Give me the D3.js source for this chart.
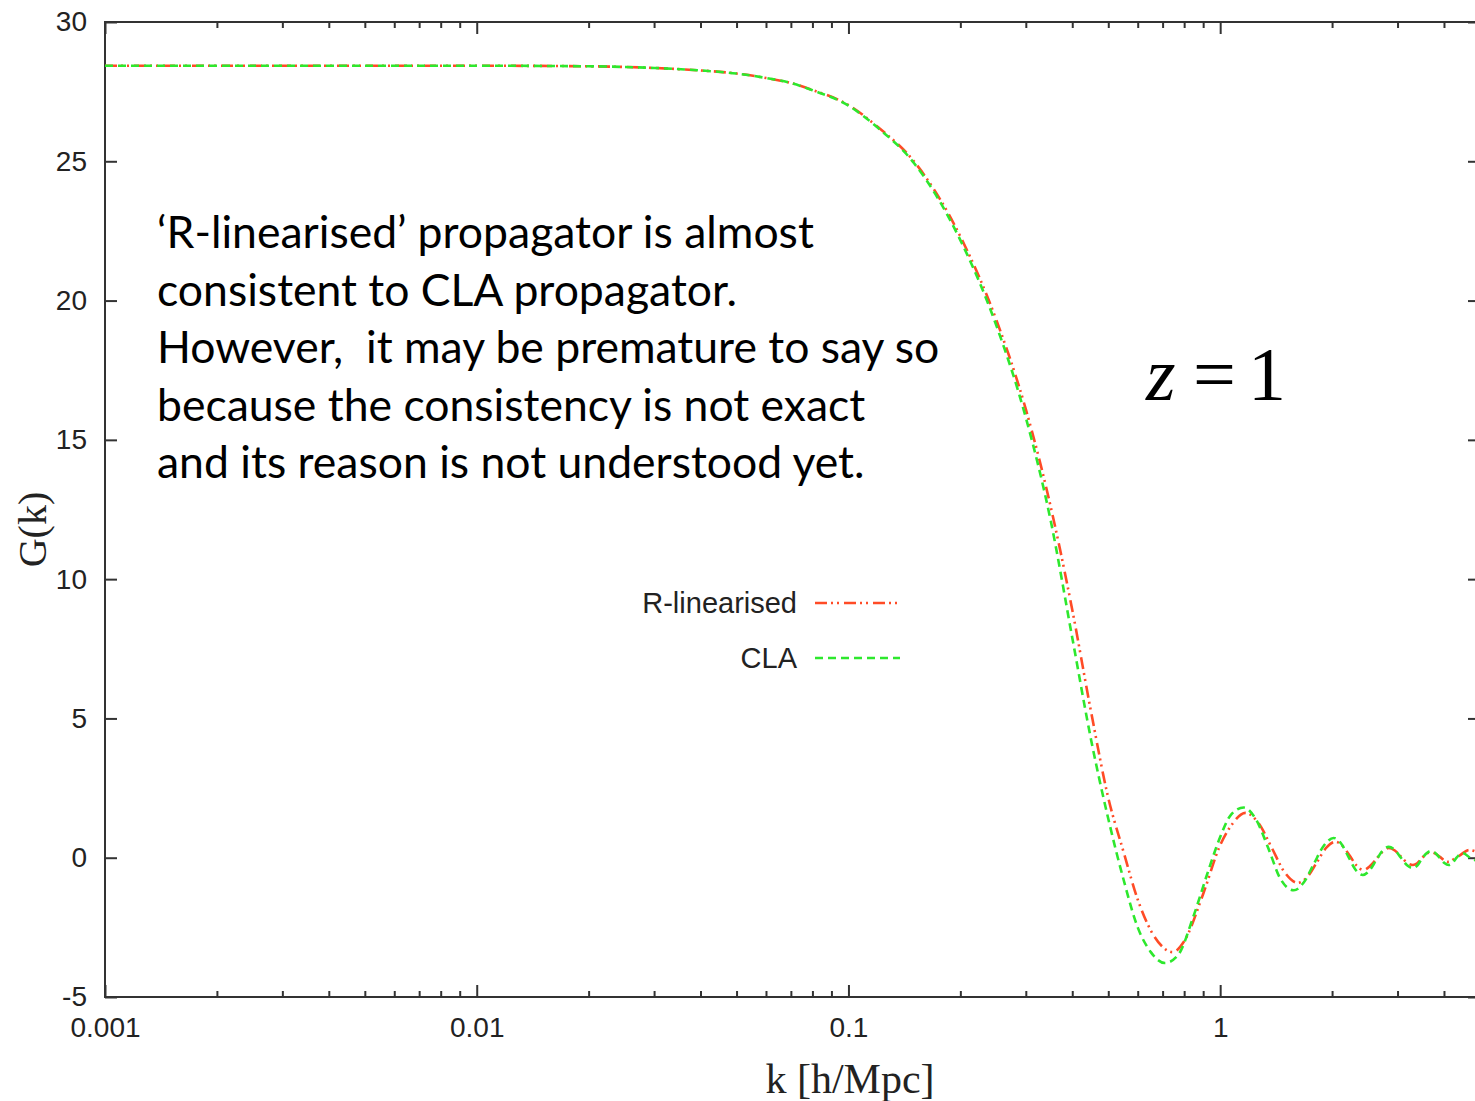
<!DOCTYPE html>
<html>
<head>
<meta charset="utf-8">
<script src="https://cdn.jsdelivr.net/npm/d3@7"></script>
<style>
  body { margin: 0; background: #fff; }
  svg { display: block; }
  .axis path, .axis line { stroke: #333; stroke-width: 2; }
  .axis text { font-family: "Liberation Sans", Arial, sans-serif; font-size: 28px; fill: #222; }
  .note { white-space: pre; }
</style>
</head>
<body>
<svg id="chart" width="1475" height="1101"></svg>
<script>
// CLA propagator
const kCLA = [0.001, 0.002, 0.005, 0.01, 0.02, 0.03, 0.04, 0.05, 0.06, 0.07, 0.08, 0.1, 0.12, 0.15,
  0.2, 0.25, 0.3, 0.35, 0.4, 0.45, 0.5, 0.55, 0.6, 0.65, 0.71, 0.77, 0.85, 0.93, 1.0, 1.07,
  1.157, 1.25, 1.35, 1.45, 1.577, 1.678, 1.785, 1.9, 2.02, 2.113, 2.21, 2.313, 2.42, 2.518, 2.62, 2.729,
  2.84, 2.95, 3.06, 3.177, 3.3, 3.39, 3.48, 3.585, 3.69, 3.79, 3.9, 4.01, 4.12, 4.21, 4.3, 4.4,
  4.49, 4.72, 4.87, 5.0];
const gCLA = [28.43, 28.43, 28.43, 28.43, 28.41, 28.35, 28.26, 28.15, 27.99, 27.81, 27.55, 27.0, 26.2, 24.94,
  22.17, 19.1, 15.8, 12.1, 7.9, 4.2, 1.4, -0.8, -2.5, -3.38, -3.78, -3.5, -2.05, -0.45, 0.74, 1.55,
  1.8, 1.36, 0.31, -0.74, -1.17, -0.89, -0.23, 0.43, 0.71, 0.52, 0.05, -0.43, -0.62, -0.47, -0.12, 0.24,
  0.39, 0.28, 0.01, -0.26, -0.37, -0.28, -0.06, 0.15, 0.24, 0.17, -0.01, -0.19, -0.26, -0.2, -0.04, 0.11,
  0.17, -0.02, -0.1, -0.2];

// R-linearised propagator
const kRlin = [0.001, 0.002, 0.005, 0.01, 0.02, 0.03, 0.04, 0.05, 0.06, 0.07, 0.08, 0.1, 0.12, 0.15,
  0.2, 0.25, 0.3, 0.35, 0.4, 0.45, 0.5, 0.55, 0.6, 0.65, 0.7, 0.745, 0.8, 0.9, 1.0, 1.07,
  1.17, 1.269, 1.376, 1.492, 1.616, 1.715, 1.819, 1.93, 2.04, 2.136, 2.232, 2.33, 2.43, 2.53, 2.63, 2.734,
  2.84, 2.95, 3.06, 3.177, 3.3, 3.39, 3.48, 3.585, 3.69, 3.79, 3.9, 4.01, 4.12, 4.25, 4.4, 4.54,
  4.67, 5.0];
const gRlin = [28.43, 28.43, 28.43, 28.43, 28.41, 28.35, 28.26, 28.15, 27.99, 27.81, 27.56, 27.02, 26.23, 25.0,
  22.3, 19.3, 16.1, 12.6, 8.9, 5.2, 2.15, 0.2, -1.5, -2.6, -3.2, -3.39, -3.0, -1.3, 0.45, 1.15,
  1.61, 1.24, 0.36, -0.53, -0.9, -0.69, -0.17, 0.36, 0.57, 0.42, 0.07, -0.29, -0.44, -0.3, -0.05, 0.21,
  0.35, 0.26, 0.05, -0.17, -0.26, -0.2, -0.03, 0.13, 0.2, 0.15, 0.03, -0.1, -0.15, -0.05, 0.07, 0.2,
  0.28, 0.15];

const yTicks = [-5, 0, 5, 10, 15, 20, 25, 30];
const xMajor = [0.001, 0.01, 0.1, 1];
const xLabels = ["0.001", "0.01", "0.1", "1"];
const xMinor = [];
[0.001, 0.01, 0.1, 1].forEach(d => { for (let m = 2; m <= 9; m++) if (d * m <= 5) xMinor.push(d * m); });

const note = [
  "\u2018R-linearised\u2019 propagator is almost",
  "consistent to CLA propagator.",
  "However,  it may be premature to say so",
  "because the consistency is not exact",
  "and its reason is not understood yet."
];

const svg = d3.select("#chart");
const mLeft = 105, mRight = 1480, mTop = 22, mBottom = 997;

const x = d3.scaleLog().domain([0.001, 5]).range([mLeft, mRight]);
const y = d3.scaleLinear().domain([-5, 30]).range([mBottom, mTop]);

// frame
svg.append("rect")
  .attr("x", mLeft).attr("y", mTop)
  .attr("width", mRight - mLeft).attr("height", mBottom - mTop)
  .attr("fill", "none").attr("stroke", "#333").attr("stroke-width", 2);

// x axes (bottom with labels, top without), ticks point inward
svg.append("g").attr("class", "axis")
  .attr("transform", `translate(0,${mBottom})`)
  .call(d3.axisBottom(x).tickValues(xMajor).tickSize(-12).tickPadding(20)
    .tickFormat((d, i) => xLabels[i]))
  .call(g => g.select(".domain").remove());
svg.append("g").attr("class", "axis")
  .attr("transform", `translate(0,${mBottom})`)
  .call(d3.axisBottom(x).tickValues(xMinor).tickSize(-6).tickFormat(""))
  .call(g => g.select(".domain").remove());
svg.append("g").attr("class", "axis")
  .attr("transform", `translate(0,${mTop})`)
  .call(d3.axisTop(x).tickValues(xMajor).tickSize(-12).tickFormat(""))
  .call(g => g.select(".domain").remove());
svg.append("g").attr("class", "axis")
  .attr("transform", `translate(0,${mTop})`)
  .call(d3.axisTop(x).tickValues(xMinor).tickSize(-6).tickFormat(""))
  .call(g => g.select(".domain").remove());

// y axes
svg.append("g").attr("class", "axis")
  .attr("transform", `translate(${mLeft},0)`)
  .call(d3.axisLeft(y).tickValues(yTicks).tickSize(-12).tickPadding(18).tickFormat(d => String(d)))
  .call(g => g.select(".domain").remove());
svg.append("g").attr("class", "axis")
  .attr("transform", `translate(${mRight},0)`)
  .call(d3.axisRight(y).tickValues(yTicks).tickSize(-12).tickFormat(""))
  .call(g => g.select(".domain").remove());

// axis titles
svg.append("text")
  .attr("transform", `translate(46,${(mTop + mBottom) / 2 + 20}) rotate(-90)`)
  .attr("text-anchor", "middle")
  .attr("font-family", "Liberation Serif, Times New Roman, serif")
  .attr("font-size", 40).attr("fill", "#222")
  .text("G(k)");
svg.append("text")
  .attr("x", 850).attr("y", 1093)
  .attr("text-anchor", "middle")
  .attr("font-family", "Liberation Serif, Times New Roman, serif")
  .attr("font-size", 42).attr("fill", "#222")
  .text("k [h/Mpc]");

// curves
svg.append("clipPath").attr("id", "clip")
  .append("rect").attr("x", mLeft).attr("y", mTop)
  .attr("width", mRight - mLeft).attr("height", mBottom - mTop);

const line = d3.line()
  .x(d => x(d[0])).y(d => y(d[1]))
  .curve(d3.curveMonotoneX);

const series = [
  { name: "R-linearised", k: kRlin, g: gRlin, color: "#ff4b26", dash: "12,4,2,4,2,5" },
  { name: "CLA", k: kCLA, g: gCLA, color: "#2de82d", dash: "8,5" }
];

const plot = svg.append("g").attr("clip-path", "url(#clip)");
series.forEach(s => {
  plot.append("path")
    .datum(s.k.map((k, i) => [k, s.g[i]]))
    .attr("d", line)
    .attr("fill", "none")
    .attr("stroke", s.color)
    .attr("stroke-width", 2.6)
    .attr("stroke-dasharray", s.dash);
});

// legend
const legend = svg.append("g");
series.forEach((s, i) => {
  const ly = 603 + i * 55;
  legend.append("text")
    .attr("x", 797).attr("y", ly).attr("dy", "0.35em")
    .attr("text-anchor", "end")
    .attr("font-family", "Liberation Sans, Arial, sans-serif")
    .attr("font-size", 29).attr("fill", "#222")
    .text(s.name);
  legend.append("line")
    .attr("x1", 815).attr("x2", 900).attr("y1", ly).attr("y2", ly)
    .attr("stroke", s.color).attr("stroke-width", 2.6)
    .attr("stroke-dasharray", s.dash);
});

// annotation
svg.append("g").selectAll("text")
  .data(note)
  .join("text")
  .attr("class", "note")
  .attr("x", 157)
  .attr("y", (d, i) => 248 + i * 57.5)
  .attr("font-family", "Lato, 'Open Sans', sans-serif")
  .attr("font-size", 44.5)
  .attr("fill", "#000")
  .text(d => d);

// redshift label
const zl = svg.append("text")
  .attr("y", 400)
  .attr("font-family", "Liberation Serif, Times New Roman, serif")
  .attr("font-size", 76)
  .attr("fill", "#000");
zl.append("tspan").attr("x", 1146).attr("font-style", "italic").text("z");
zl.append("tspan").attr("x", 1193).text("=");
zl.append("tspan").attr("x", 1248).text("1");
</script>
</body>
</html>
